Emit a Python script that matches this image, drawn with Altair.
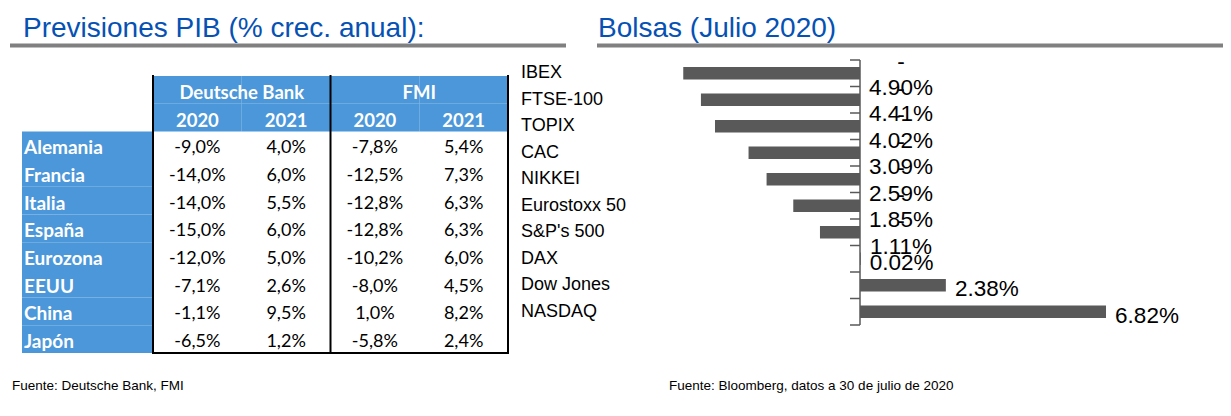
import altair as alt
import pandas as pd

# ---------------- data ----------------
countries = ["Alemania", "Francia", "Italia", "España", "Eurozona", "EEUU", "China", "Japón"]
db_2020 = [-9.0, -14.0, -14.0, -15.0, -12.0, -7.1, -1.1, -6.5]
db_2021 = [4.0, 6.0, 5.5, 6.0, 5.0, 2.6, 9.5, 1.2]
fmi_2020 = [-7.8, -12.5, -12.8, -12.8, -10.2, -8.0, 1.0, -5.8]
fmi_2021 = [5.4, 7.3, 6.3, 6.3, 6.0, 4.5, 8.2, 2.4]

col_keys = ["DB 2020", "DB 2021", "FMI 2020", "FMI 2021"]
col_years = ["2020", "2021", "2020", "2021"]
groups = ["Deutsche Bank", "FMI"]
group_first_col = ["DB 2020", "FMI 2020"]
group_last_col = ["DB 2021", "FMI 2021"]
header_rows = ["h1", "h2"]

indices = ["IBEX", "FTSE-100", "TOPIX", "CAC", "NIKKEI", "Eurostoxx 50",
           "S&P's 500", "DAX", "Dow Jones", "NASDAQ"]
returns = [-4.90, -4.41, -4.02, -3.09, -2.59, -1.85, -1.11, 0.02, 2.38, 6.82]

title_left = "Previsiones PIB (% crec. anual):"
title_right = "Bolsas (Julio 2020)"
source_left = "Fuente: Deutsche Bank, FMI"
source_right = "Fuente: Bloomberg, datos a 30 de julio de 2020"

# ---------------- tables ----------------
def pct_es(v):
    return f"{v:.1f}%".replace(".", ",")

series = [db_2020, db_2021, fmi_2020, fmi_2021]
cells = pd.DataFrame([
    {"row": c, "col": k, "txt": pct_es(series[j][i])}
    for i, c in enumerate(countries) for j, k in enumerate(col_keys)
])
header_cells = pd.DataFrame([{"row": r, "col": k} for r in header_rows for k in col_keys])
years_df = pd.DataFrame({"row": "h2", "col": col_keys, "txt": col_years})
groups_df = pd.DataFrame({"row": "h1", "col": group_last_col, "txt": groups})
rows_df = pd.DataFrame({"row": countries})
vlines_start = pd.DataFrame({"col": group_first_col})
vlines_end = pd.DataFrame({"col": [col_keys[-1]]})

def lbl(v):
    s = f"{abs(v):.2f}%"
    return "-\n" + s if v < 0 else s

bars = pd.DataFrame({"idx": indices, "v": returns,
                     "lx": [max(v, 0) for v in returns],
                     "txt": [lbl(v) for v in returns]})
neg = bars[bars.v < 0]
pos = bars[bars.v >= 0]
ticks_df = pd.DataFrame({"t": list(range(len(indices) + 1))})
zero_df = pd.DataFrame({"z": [0]})

# ---------------- scales ----------------
row_scale = alt.Scale(type="band", domain=header_rows + countries, range=[68, 345],
                      paddingInner=0, paddingOuter=0)
col_scale = alt.Scale(type="band", domain=col_keys, range=[145, 500],
                      paddingInner=0, paddingOuter=0)
bx_scale = alt.Scale(domain=[-5, 7], range=[671.65, 1104.5], zero=False, nice=False)
by_scale = alt.Scale(type="band", domain=indices, range=[52, 317],
                     paddingInner=0.52, paddingOuter=0.26)
tick_scale = alt.Scale(domain=[0, len(indices)], range=[52, 317], zero=False, nice=False)

BLUE = "#4b97d9"
TITLE = "#0551b4"
GRAY = "#808080"
BAR = "#595959"
TFONT = "Lato"
AFONT = "Liberation Sans"

Y = lambda: alt.Y("row:N", scale=row_scale, axis=None)
X = lambda: alt.X("col:N", scale=col_scale, axis=None)

layers = []

# titles + underline
layers.append(alt.Chart(pd.DataFrame({"t": [title_left]})).mark_text(
    font=AFONT, fontSize=28, color=TITLE, align="left", baseline="alphabetic"
).encode(x=alt.value(15), y=alt.value(29), text="t:N"))
layers.append(alt.Chart(pd.DataFrame({"t": [title_right]})).mark_text(
    font=AFONT, fontSize=28, color=TITLE, align="left", baseline="alphabetic"
).encode(x=alt.value(590), y=alt.value(29), text="t:N"))
layers.append(alt.Chart(pd.DataFrame({"a": [0]})).mark_rule(color=GRAY, strokeWidth=4).encode(
    x=alt.value(2), x2=alt.value(558), y=alt.value(37.5)))
layers.append(alt.Chart(pd.DataFrame({"a": [0]})).mark_rule(color=GRAY, strokeWidth=4).encode(
    x=alt.value(589), x2=alt.value(1215), y=alt.value(37.5)))

# table backgrounds
layers.append(alt.Chart(header_cells).mark_rect(color=BLUE).encode(x=X(), y=Y()))
layers.append(alt.Chart(rows_df).mark_rect(color=BLUE).encode(
    x=alt.value(14), x2=alt.value(145), y=Y()))

# table text
layers.append(alt.Chart(groups_df).mark_text(
    font=TFONT, fontSize=18.5, fontWeight="bold", color="white", baseline="middle", dy=3
).encode(x=alt.X("col:N", scale=col_scale, axis=None, bandPosition=0), y=Y(), text="txt:N"))
layers.append(alt.Chart(years_df).mark_text(
    font=TFONT, fontSize=18.5, fontWeight="bold", color="white", baseline="middle", dy=3
).encode(x=X(), y=Y(), text="txt:N"))
layers.append(alt.Chart(rows_df).mark_text(
    font=TFONT, fontSize=19, fontWeight="bold", color="white", baseline="middle",
    align="left", dy=3
).encode(x=alt.value(16), y=Y(), text="row:N"))
layers.append(alt.Chart(cells).mark_text(
    font=TFONT, fontSize=18, color="black", baseline="middle", dy=3
).encode(x=X(), y=Y(), text="txt:N"))

# table borders
layers.append(alt.Chart(vlines_start).mark_rule(color="black", strokeWidth=2).encode(
    x=alt.X("col:N", scale=col_scale, axis=None, bandPosition=0),
    y=alt.value(67), y2=alt.value(345)))
layers.append(alt.Chart(vlines_end).mark_rule(color="black", strokeWidth=2).encode(
    x=alt.X("col:N", scale=col_scale, axis=None, bandPosition=1),
    y=alt.value(67), y2=alt.value(345)))
layers.append(alt.Chart(pd.DataFrame({"a": [0]})).mark_rule(color="black", strokeWidth=2).encode(
    x=alt.value(144), x2=alt.value(501), y=alt.value(345)))

# bar chart
layers.append(alt.Chart(bars).mark_bar(color=BAR).encode(
    x=alt.X("v:Q", scale=bx_scale, axis=None),
    y=alt.Y("idx:N", scale=by_scale, axis=None)))
layers.append(alt.Chart(zero_df).mark_rule(color=BAR, strokeWidth=1.5).encode(
    x=alt.X("z:Q", scale=bx_scale, axis=None), y=alt.value(52), y2=alt.value(317)))
layers.append(alt.Chart(ticks_df).mark_rule(color=BAR, strokeWidth=1.5).encode(
    y=alt.Y("t:Q", scale=tick_scale, axis=None), x=alt.value(842), x2=alt.value(852)))
layers.append(alt.Chart(bars).mark_text(
    font=AFONT, fontSize=18, color="black", align="left", baseline="middle"
).encode(x=alt.value(513), y=alt.Y("idx:N", scale=by_scale, axis=None), text="idx:N"))
layers.append(alt.Chart(neg).mark_text(
    font=AFONT, fontSize=22.5, color="black", align="center", baseline="middle",
    lineBreak="\n", lineHeight=25.5, dx=41, dy=-11
).encode(x=alt.X("lx:Q", scale=bx_scale, axis=None),
         y=alt.Y("idx:N", scale=by_scale, axis=None), text="txt:N"))
layers.append(alt.Chart(pos).mark_text(
    font=AFONT, fontSize=22.5, color="black", align="center", baseline="middle",
    dx=41, dy=4
).encode(x=alt.X("lx:Q", scale=bx_scale, axis=None),
         y=alt.Y("idx:N", scale=by_scale, axis=None), text="txt:N"))

# sources
layers.append(alt.Chart(pd.DataFrame({"t": [source_left]})).mark_text(
    font=AFONT, fontSize=13.5, color="black", align="left", baseline="alphabetic"
).encode(x=alt.value(4), y=alt.value(382), text="t:N"))
layers.append(alt.Chart(pd.DataFrame({"t": [source_right]})).mark_text(
    font=AFONT, fontSize=13.5, color="black", align="left", baseline="alphabetic"
).encode(x=alt.value(661), y=alt.value(382), text="t:N"))

chart = alt.layer(*layers).resolve_scale(x="independent", y="independent").properties(
    width=1215, height=400, autosize="none", padding=0
).configure_view(stroke=None)

chart.save("out.html", embed_options={"renderer": "svg", "actions": False})
